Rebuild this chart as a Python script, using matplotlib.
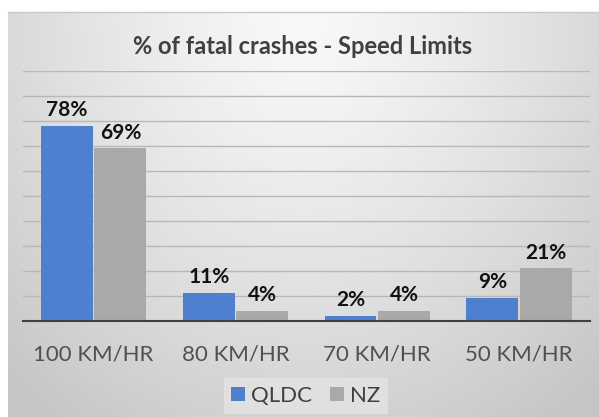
import numpy as np
import matplotlib.pyplot as plt

plt.rcParams['font.family'] = ['Lato', 'DejaVu Sans']

# data
categories = ['100 KM/HR', '80 KM/HR', '70 KM/HR', '50 KM/HR']
qldc = [78, 11, 2, 9]
nz = [69, 4, 4, 21]
series_names = ['QLDC', 'NZ']

W, H = 599, 417
fig = plt.figure(figsize=(W / 100, H / 100), dpi=100, facecolor='white')

# chart area background (radial gradient, light at top centre)
bg = fig.add_axes([8 / W, 0, (W - 8) / W, (H - 12) / H], zorder=-1)
gx, gy = np.meshgrid(np.linspace(-1, 1, 300), np.linspace(0, 1, 200))
r = np.sqrt((gx * 0.85) ** 2 + (gy * 1.0) ** 2)
r = np.clip(r / 1.25, 0, 1)
shade = 0.975 - 0.2 * r ** 1.3
bg.imshow(np.dstack([shade] * 3), aspect='auto', extent=[0, 1, 1, 0], interpolation='bilinear')
bg.set_xlim(0, 1)
bg.set_ylim(1, 0)
bg.axis('off')
fig.add_artist(plt.Line2D([8 / W, 1], [1 - 12 / H, 1 - 12 / H], transform=fig.transFigure,
                          color='#c8c8c8', lw=1))

ax = fig.add_axes([22.7 / W, 1 - 320.5 / H, (590 - 22.7) / W, 249.5 / H])
ax.patch.set_alpha(0)

x = np.arange(len(categories))
bw = 0.365
b1 = ax.bar(x - bw / 2 - 0.006, qldc, bw, color='#4f7fcf', label=series_names[0], zorder=3)
b2 = ax.bar(x + bw / 2 + 0.006, nz, bw, color='#a9a9a9', label=series_names[1], zorder=3)

for bars, vals in ((b1, qldc), (b2, nz)):
    for b, v in zip(bars, vals):
        ax.annotate(f'{v}%', (b.get_x() + b.get_width() / 2, v), xytext=(0, 4),
                    textcoords='offset points', ha='center', va='bottom',
                    fontsize=15, fontweight='bold', color='#111111')

ax.set_xlim(-0.5, 3.5)
ax.set_ylim(0, 100)
ax.set_yticks(np.arange(0, 101, 10))
ax.yaxis.grid(True, color='#b8b8b8', lw=1, zorder=0)
ax.tick_params(axis='y', left=False, labelleft=False)
ax.tick_params(axis='x', length=0, pad=17, labelsize=16, labelcolor='#505050')
ax.set_xticks(x)
ax.set_xticklabels(categories)
for s in ['top', 'right', 'left']:
    ax.spines[s].set_visible(False)
ax.spines['bottom'].set_color('#404040')
ax.spines['bottom'].set_linewidth(1.5)
ax.spines['bottom'].set_zorder(4)

fig.text(303 / W, 1 - 47 / H, '% of fatal crashes - Speed Limits', ha='center', va='center',
         fontsize=17, fontweight='bold', color='#404040')

leg = ax.legend(loc='center', bbox_to_anchor=(306 / W, 1 - 396 / H), bbox_transform=fig.transFigure,
                ncol=2, frameon=True, fontsize=16, handlelength=0.6, handleheight=0.6,
                handletextpad=0.3, columnspacing=0.8, borderpad=0.35)
leg.get_frame().set_facecolor('#e4e4e4')
leg.get_frame().set_edgecolor('none')
leg.get_frame().set_boxstyle('square', pad=0)
for t in leg.get_texts():
    t.set_color('#404040')

fig.savefig('out.png', dpi=100, facecolor='white')
